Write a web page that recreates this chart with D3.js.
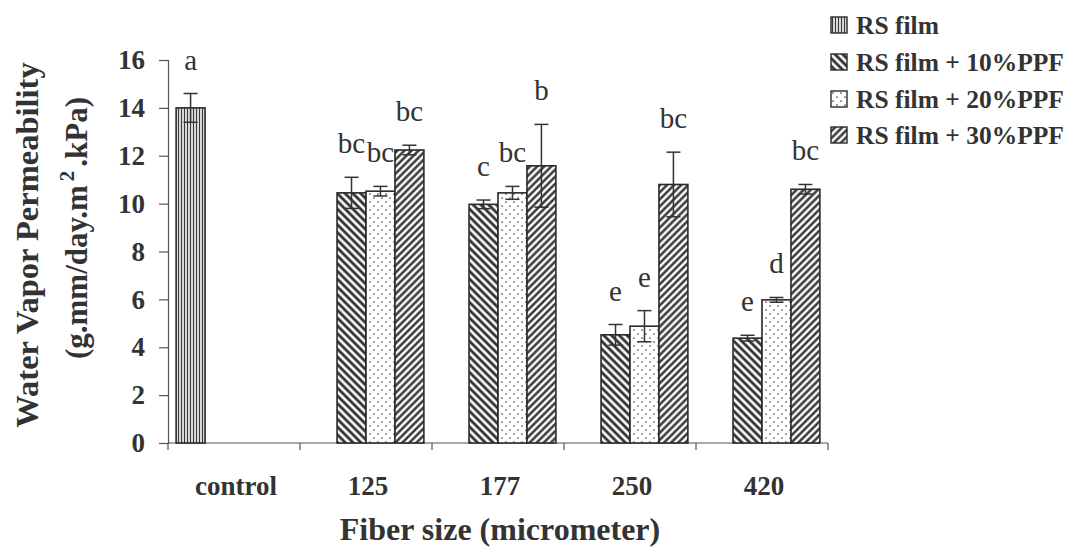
<!DOCTYPE html>
<html>
<head>
<meta charset="utf-8">
<script src="https://cdn.jsdelivr.net/npm/d3@7"></script>
<style>
  html, body { margin: 0; padding: 0; background: #fff; }
  svg { display: block; }
  text { font-family: "Liberation Serif", "Times New Roman", serif; fill: #333; }
</style>
</head>
<body>
<svg id="chart" width="1069" height="550"></svg>
<script>
// ---------- data ----------
const categories = ["control", "125", "177", "250", "420"];
const seriesNames = ["RS film", "RS film + 10%PPF", "RS film + 20%PPF", "RS film + 30%PPF"];

const rsFilm  = [14.0, null, null, null, null];
const ppf10   = [null, 10.45, 9.97, 4.52, 4.38];
const ppf20   = [null, 10.52, 10.45, 4.88, 5.98];
const ppf30   = [null, 12.24, 11.58, 10.80, 10.60];

const rsFilmErr = [0.60, null, null, null, null];
const ppf10Err  = [null, 0.65, 0.18, 0.43, 0.12];
const ppf20Err  = [null, 0.20, 0.27, 0.65, 0.10];
const ppf30Err  = [null, 0.20, 1.73, 1.35, 0.20];

const rsFilmLetters = ["a", null, null, null, null];
const ppf10Letters  = [null, "bc", "c", "e", "e"];
const ppf20Letters  = [null, "bc", "bc", "e", "d"];
const ppf30Letters  = [null, "bc", "b", "bc", "bc"];

const yTicks = [0, 2, 4, 6, 8, 10, 12, 14, 16];

const seriesValues  = [rsFilm, ppf10, ppf20, ppf30];
const seriesErrors  = [rsFilmErr, ppf10Err, ppf20Err, ppf30Err];
const seriesLetters = [rsFilmLetters, ppf10Letters, ppf20Letters, ppf30Letters];

// ---------- layout ----------
const svg = d3.select("#chart");
const plot = { left: 168, right: 828, top: 60, bottom: 443 };
const ink = "#333";

const x0 = d3.scaleBand().domain(categories).range([plot.left, plot.right]).padding(0);
const x1 = d3.scaleBand().domain(d3.range(seriesNames.length))
  .range([0, x0.bandwidth()]).paddingInner(0).paddingOuter(0.28);
const y = d3.scaleLinear().domain([0, 16]).range([plot.bottom, plot.top]);

// ---------- patterns ----------
const defs = svg.append("defs");
const patIds = ["pVert", "pBack", "pDots", "pFwd"];

(function () {
  const p = defs.append("pattern").attr("id", "pVert").attr("patternUnits", "userSpaceOnUse")
    .attr("width", 3).attr("height", 6);
  p.append("rect").attr("width", 3).attr("height", 6).attr("fill", "#fff");
  p.append("line").attr("x1", 1.5).attr("x2", 1.5).attr("y1", 0).attr("y2", 6)
    .attr("stroke", "#3a3a3a").attr("stroke-width", 1.4);
})();
(function () {
  const p = defs.append("pattern").attr("id", "pBack").attr("patternUnits", "userSpaceOnUse")
    .attr("width", 5.5).attr("height", 10).attr("patternTransform", "rotate(-45)");
  p.append("rect").attr("width", 5.5).attr("height", 10).attr("fill", "#fff");
  p.append("line").attr("x1", 2.75).attr("x2", 2.75).attr("y1", 0).attr("y2", 10)
    .attr("stroke", "#2e2e2e").attr("stroke-width", 2.8);
})();
(function () {
  const p = defs.append("pattern").attr("id", "pDots").attr("patternUnits", "userSpaceOnUse")
    .attr("width", 8).attr("height", 8);
  p.append("rect").attr("width", 8).attr("height", 8).attr("fill", "#fff");
  p.append("circle").attr("cx", 2).attr("cy", 2).attr("r", 0.85).attr("fill", "#444");
  p.append("circle").attr("cx", 6).attr("cy", 6).attr("r", 0.85).attr("fill", "#444");
})();
(function () {
  const p = defs.append("pattern").attr("id", "pFwd").attr("patternUnits", "userSpaceOnUse")
    .attr("width", 5).attr("height", 10).attr("patternTransform", "rotate(45)");
  p.append("rect").attr("width", 5).attr("height", 10).attr("fill", "#fff");
  p.append("line").attr("x1", 2.5).attr("x2", 2.5).attr("y1", 0).attr("y2", 10)
    .attr("stroke", "#2e2e2e").attr("stroke-width", 2.4);
})();

// ---------- axes ----------
const yAxis = d3.axisLeft(y).tickValues(yTicks).tickSize(9).tickPadding(14).tickFormat(d3.format("d"));
const gy = svg.append("g").attr("transform", `translate(${plot.left},0)`).call(yAxis);
gy.select(".domain").attr("stroke", "#555").attr("stroke-width", 1.2);
gy.selectAll(".tick line").attr("stroke", "#555").attr("stroke-width", 1.2);
gy.selectAll(".tick text").style("font-family", "'Liberation Serif', serif")
  .style("font-size", "27px").style("font-weight", "bold").attr("fill", ink);

const gx = svg.append("g").attr("transform", `translate(0,${plot.bottom})`);
gx.append("line").attr("x1", plot.left).attr("x2", plot.right).attr("y1", 0).attr("y2", 0)
  .attr("stroke", "#555").attr("stroke-width", 1.2);
gx.selectAll("line.bt").data(categories).enter().append("line").attr("class", "bt")
  .attr("x1", d => x0(d) + x0.bandwidth()).attr("x2", d => x0(d) + x0.bandwidth())
  .attr("y1", 0).attr("y2", 7).attr("stroke", "#555").attr("stroke-width", 1.2);
gx.append("line").attr("x1", plot.left).attr("x2", plot.left).attr("y1", 0).attr("y2", 7)
  .attr("stroke", "#555").attr("stroke-width", 1.2);
gx.selectAll("text.cat").data(categories).enter().append("text").attr("class", "cat")
  .attr("x", d => x0(d) + x0.bandwidth() / 2 + 2).attr("y", 52)
  .attr("text-anchor", "middle").style("font-size", "27px").style("font-weight", "bold")
  .text(d => d);

// ---------- bars ----------
const barData = [];
seriesValues.forEach((vals, s) => {
  vals.forEach((v, c) => {
    if (v != null) barData.push({ s, c, v, e: seriesErrors[s][c], l: seriesLetters[s][c] });
  });
});

const g = svg.append("g");
g.selectAll("rect.bar").data(barData).enter().append("rect").attr("class", "bar")
  .attr("x", d => x0(categories[d.c]) + x1(d.s))
  .attr("y", d => y(d.v))
  .attr("width", x1.bandwidth())
  .attr("height", d => y(0) - y(d.v))
  .attr("fill", d => `url(#${patIds[d.s]})`)
  .attr("stroke", "#2a2a2a").attr("stroke-width", 1.6);

const cap = 7;
const eb = g.selectAll("g.eb").data(barData).enter().append("g").attr("class", "eb")
  .attr("transform", d => `translate(${x0(categories[d.c]) + x1(d.s) + x1.bandwidth() / 2},0)`);
eb.append("line").attr("y1", d => y(d.v - d.e)).attr("y2", d => y(d.v + d.e))
  .attr("stroke", "#333").attr("stroke-width", 1.5);
eb.append("line").attr("x1", -cap).attr("x2", cap).attr("y1", d => y(d.v + d.e)).attr("y2", d => y(d.v + d.e))
  .attr("stroke", "#333").attr("stroke-width", 1.5);
eb.append("line").attr("x1", -cap).attr("x2", cap).attr("y1", d => y(d.v - d.e)).attr("y2", d => y(d.v - d.e))
  .attr("stroke", "#333").attr("stroke-width", 1.5);

eb.append("text").attr("x", 0).attr("y", d => y(d.v + d.e) - 24)
  .attr("text-anchor", "middle").style("font-size", "29px").text(d => d.l);

// ---------- axis titles ----------
svg.append("text").attr("transform", "translate(38,245) rotate(-90)")
  .attr("text-anchor", "middle").style("font-size", "32.5px").style("font-weight", "bold")
  .text("Water Vapor Permeability");
const yt2 = svg.append("text").attr("transform", "translate(87,228) rotate(-90)")
  .attr("text-anchor", "middle").style("font-size", "31px").style("font-weight", "bold");
yt2.append("tspan").text("(g.mm/day.m");
yt2.append("tspan").attr("dy", -13).attr("dx", 4).style("font-size", "21px").text("2");
yt2.append("tspan").attr("dy", 13).attr("dx", 4).text(".kPa)");

svg.append("text").attr("x", 500).attr("y", 540).attr("text-anchor", "middle")
  .style("font-size", "32px").style("font-weight", "bold").text("Fiber size (micrometer)");

// ---------- legend ----------
const leg = svg.append("g").attr("transform", "translate(831,0)");
const rowY = [25, 62, 99, 135];
const items = leg.selectAll("g.li").data(seriesNames).enter().append("g").attr("class", "li")
  .attr("transform", (d, i) => `translate(0,${rowY[i]})`);
items.append("rect").attr("x", 0).attr("y", -8).attr("width", 16).attr("height", 16)
  .attr("fill", (d, i) => `url(#${patIds[i]})`).attr("stroke", "#2a2a2a").attr("stroke-width", 1.4);
items.append("text").attr("x", 25).attr("y", 0).attr("dy", "0.35em")
  .style("font-size", "25.5px").style("font-weight", "bold").text(d => d);
</script>
</body>
</html>
